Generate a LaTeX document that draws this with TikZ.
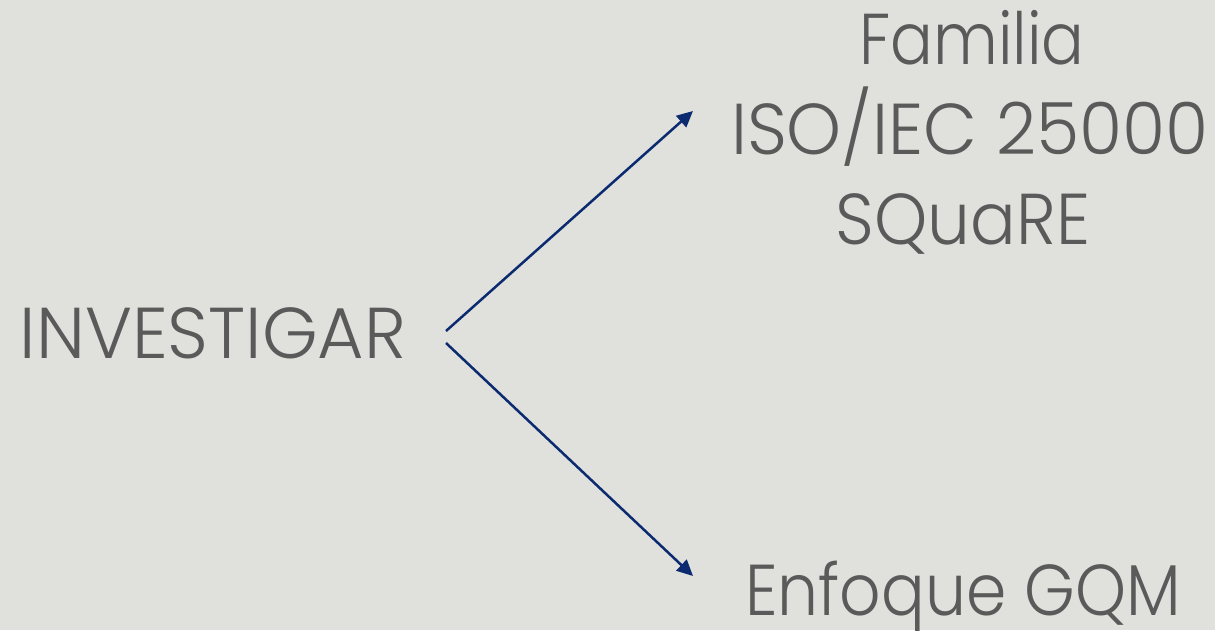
\documentclass[tikz,border=0pt]{standalone}
\usepackage{fontspec}
\setmainfont{Poppins Light}
\newfontfamily\fA{Poppins Light}[FakeStretch=0.99]
\newfontfamily\fB{Poppins Light}[FakeStretch=0.88]
\newfontfamily\fC{Poppins Light}[FakeStretch=0.97]
\newfontfamily\fD{Poppins Light}[FakeStretch=0.94]
\newfontfamily\fE{Poppins Light}[FakeStretch=0.90]
\usetikzlibrary{arrows.meta}
\definecolor{bg}{HTML}{E0E1DC}
\definecolor{txt}{HTML}{5A5A5A}
\definecolor{navy}{HTML}{0B2A6F}
\tikzset{
  lbl/.style={inner sep=0pt, text=txt, font=\fontsize{72}{90}\selectfont, anchor=base},
  conn/.style={draw=navy, line width=2.5pt, -{Triangle[length=16pt,width=15pt]}}
}
\begin{document}
\begin{tikzpicture}[x=1pt,y=-1pt]
\fill[bg] (0,0) rectangle (1215,630);
\useasboundingbox (0,0) rectangle (1215,630);
\node[lbl] (inv) at (213,358) {\fA INVESTIGAR};
\node[lbl] (fam) at (972,64) {\fB Familia};
\node[lbl] (iso) at (970,154) {\fC ISO/IEC 25000};
\node[lbl] (sq) at (963,244) {\fD SQuaRE};
\node[lbl] (gqm) at (963,615) {\fE Enfoque GQM};
\coordinate (s1) at (446,331);
\coordinate (t1) at (693,111);
\coordinate (s2) at (446,343);
\coordinate (t2) at (693,576);
\draw[conn] (s1) -- (t1);
\draw[conn] (s2) -- (t2);
\end{tikzpicture}
\end{document}
